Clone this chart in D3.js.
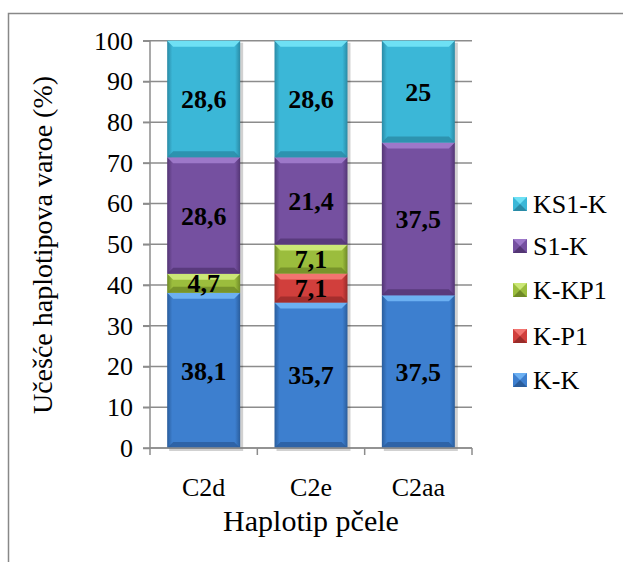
<!DOCTYPE html>
<html><head><meta charset="utf-8">
<script src="https://cdn.jsdelivr.net/npm/d3@7"></script>
<style>svg text, svg g, svg { font-family: "Liberation Serif", "Times New Roman", serif !important; }</style>
</head><body style="margin:0"><svg id="c" width="623" height="562" font-family="Liberation Serif"></svg>
<script>
const categories = ["C2d","C2e","C2aa"];
const seriesNames = ["K-K","K-P1","K-KP1","S1-K","KS1-K"];
const valKK   = [38.1,35.7,37.5];
const valKP1  = [0,7.1,0];
const valKKP1 = [4.7,7.1,0];
const valS1K  = [28.6,21.4,37.5];
const valKS1K = [28.6,28.6,25];
const yTicks = [0,10,20,30,40,50,60,70,80,90,100];
const labelText = [["38,1","35,7","37,5"],["","7,1",""],["4,7","7,1",""],["28,6","21,4","37,5"],["28,6","28,6","25"]];
const colors = {"K-K":["#3d7fcf","#6cb0f2","#2a5d9c"],"K-P1":["#d13f3c","#f27470","#992b29"],"K-KP1":["#9bbd3d","#cbe776","#6f8a27"],"S1-K":["#7550a0","#9d78c9","#533574"],"KS1-K":["#3bb7d7","#6ee0f4","#2a8aa5"]};
const FONT = "Liberation Serif";

const svg = d3.select("#c");
svg.append("rect").attr("x",8.5).attr("y",13.5).attr("width",700).attr("height",700).attr("fill","none").attr("stroke","#888").attr("stroke-width",1.5);

const m = {l:150,r:472,t:40.7,b:448};
const x = d3.scaleBand().domain(categories).range([m.l,m.r]).paddingInner(0.32).paddingOuter(0.16);
const y = d3.scaleLinear().domain([0,100]).range([m.b,m.t]);

const rows = categories.map((c,i)=>({cat:c,"K-K":valKK[i],"K-P1":valKP1[i],"K-KP1":valKKP1[i],"S1-K":valS1K[i],"KS1-K":valKS1K[i]}));
const stacked = d3.stack().keys(seriesNames).offset(d3.stackOffsetExpand)(rows);

const defs = svg.append("defs");
seriesNames.forEach((s,i)=>{
  const g = defs.append("linearGradient").attr("id","g"+i).attr("x1","0").attr("x2","1").attr("y1","0").attr("y2","0");
  g.append("stop").attr("offset","0").attr("stop-color",colors[s][2]);
  g.append("stop").attr("offset","0.07").attr("stop-color",colors[s][0]);
  g.append("stop").attr("offset","0.93").attr("stop-color",colors[s][0]);
  g.append("stop").attr("offset","1").attr("stop-color",colors[s][2]);
});

function serif(sel){ return sel.attr("font-family",FONT).style("font-family","'Liberation Serif', serif","important"); }

// gridlines
const grid = svg.append("g");
yTicks.forEach(t=>{
  grid.append("line").attr("x1",m.l-7).attr("x2",m.r).attr("y1",y(t)).attr("y2",y(t)).attr("stroke","#8c8c8c").attr("stroke-width",1.5);
});
// y axis
const yAxis = svg.append("g").attr("transform",`translate(${m.l},0)`).call(d3.axisLeft(y).tickValues(yTicks).tickSize(7).tickPadding(10));
yAxis.attr("font-size",26);
serif(yAxis);
yAxis.select(".domain").attr("stroke","#8c8c8c").attr("stroke-width",1.5).attr("d",`M0,${m.t}V${m.b}`);
yAxis.selectAll(".tick line").attr("stroke","#8c8c8c").attr("stroke-width",1.5);
serif(yAxis.selectAll("text")).attr("fill","#000");

// bars
const bw = x.bandwidth(), bev = 6;
const barG = svg.append("g");
categories.forEach((c,ci)=>{
  barG.append("rect").attr("x",x(c)+2).attr("y",y(100)+2).attr("width",bw+1).attr("height",y(0)-y(100)+1).attr("fill","#000").attr("opacity",0.18);
  stacked.forEach((ser,si)=>{
    const d = ser[ci];
    if (d[1]-d[0] <= 0) return;
    const x0 = x(c), x1 = x0+bw, y0 = y(d[1]*100), y1 = y(d[0]*100);
    const s = seriesNames[si];
    barG.append("rect").attr("x",x0).attr("y",y0).attr("width",bw).attr("height",y1-y0).attr("fill",`url(#g${si})`);
    const b = Math.min(bev,(y1-y0)/2);
    barG.append("path").attr("d",`M${x0},${y0}H${x1}L${x1-b},${y0+b}H${x0+b}Z`).attr("fill",colors[s][1]);
    barG.append("path").attr("d",`M${x0},${y1}H${x1}L${x1-b},${y1-b}H${x0+b}Z`).attr("fill",colors[s][2]).attr("opacity",0.8);
  });
});
// labels
stacked.forEach((ser,si)=>{
  ser.forEach((d,ci)=>{
    const t = labelText[si][ci];
    if (!t) return;
    serif(svg.append("text")).attr("x",x(categories[ci])+bw/2).attr("y",y((d[0]+d[1])/2*100)).attr("dy","0.35em")
      .attr("font-size",26).attr("font-weight","bold").attr("text-anchor","middle").text(t);
  });
});

// x axis
const xAxis = svg.append("g").attr("transform",`translate(0,${m.b})`).call(d3.axisBottom(x).tickSize(0).tickPadding(30));
xAxis.attr("font-size",26);
serif(xAxis);
xAxis.select(".domain").remove();
serif(xAxis.selectAll("text")).attr("fill","#000");
svg.append("line").attr("x1",m.l).attr("x2",m.r).attr("y1",m.b).attr("y2",m.b).attr("stroke","#8c8c8c").attr("stroke-width",1.5);
[0,1,2,3].forEach(i=>{
  const xx = m.l + i*(m.r-m.l)/3;
  svg.append("line").attr("x1",xx).attr("x2",xx).attr("y1",m.b).attr("y2",m.b+7).attr("stroke","#8c8c8c").attr("stroke-width",1.5);
});

// titles
serif(svg.append("text")).attr("x",(m.l+m.r)/2).attr("y",531).attr("text-anchor","middle").attr("font-size",30).text("Haplotip pčele");
serif(svg.append("text")).attr("transform","translate(52,245) rotate(-90)").attr("text-anchor","middle").attr("font-size",28).text("Učešće haplotipova varoe (%)");

// legend
const legOrder = seriesNames.slice().reverse();
const legY = [204,246,290,336,380];
legOrder.forEach((s,i)=>{
  const g = svg.append("g").attr("transform",`translate(513,${legY[i]-7})`);
  g.append("rect").attr("width",14).attr("height",14).attr("fill",colors[s][0]);
  g.append("path").attr("d","M0,0H14L7,7Z").attr("fill",colors[s][1]);
  g.append("path").attr("d","M0,14H14L7,7Z").attr("fill",colors[s][2]);
  serif(svg.append("text")).attr("x",533).attr("y",legY[i]).attr("dy","0.35em").attr("font-size",26).text(s);
});
</script></body></html>
